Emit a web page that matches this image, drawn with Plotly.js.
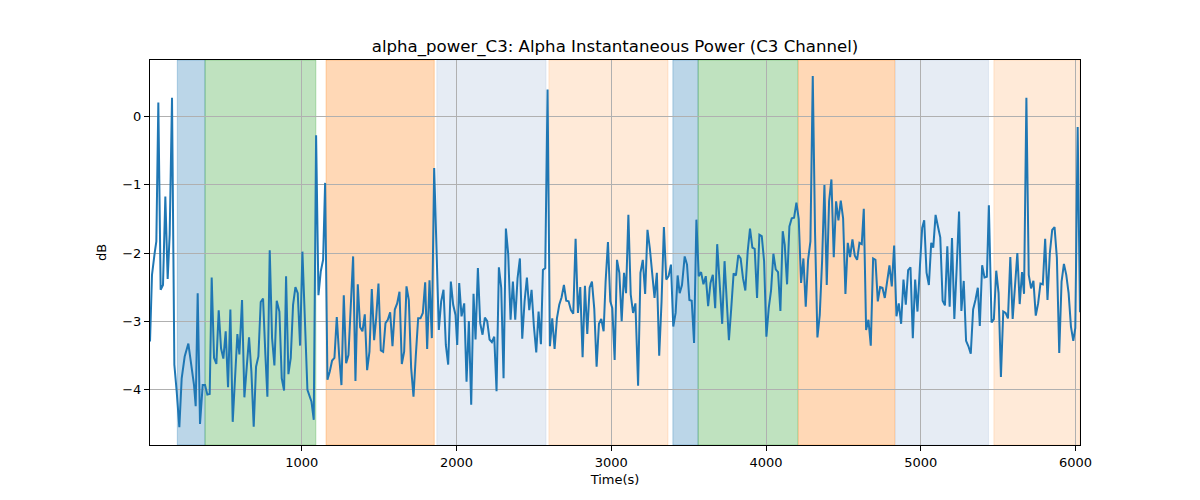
<!DOCTYPE html>
<html>
<head>
<meta charset="utf-8">
<script src="https://cdn.plot.ly/plotly-3.0.1.min.js"></script>
<style>
  html, body { margin: 0; padding: 0; background: #fff; }
  #chart { width: 1200px; height: 500px; }
</style>
</head>
<body>
<div id="chart"></div>
<script>
// alpha power, C3 channel
var timeSec = [
  19.5, 32.4, 49.6, 60.4, 73.3, 88.4, 103.5, 118.6, 133.7, 146.6, 161.7, 176.8, 191.8, 209.1, 224.2, 243.6,
  267.3, 288.8, 303.9, 314.7, 327.6, 342.7, 359.9, 375.0, 390.1, 405.2, 418.1, 433.2, 448.3, 463.4, 478.5, 493.5,
  508.6, 523.7, 538.8, 553.9, 569.0, 584.1, 597.0, 614.2, 629.3, 644.4, 659.5, 674.6, 689.6, 704.7, 719.8, 734.9,
  750.0, 765.1, 778.0, 793.1, 808.2, 823.3, 838.3, 855.6, 870.7, 885.8, 898.7, 913.8, 928.9, 943.9, 959.0, 974.1,
  989.2, 1004.3, 1019.4, 1036.6, 1062.5, 1077.6, 1092.7, 1107.8, 1122.9, 1138.0, 1150.9, 1166.0, 1181.1, 1196.1, 1211.2, 1226.3,
  1241.4, 1256.5, 1271.6, 1286.7, 1301.7, 1316.8, 1331.9, 1347.0, 1362.1, 1377.2, 1392.2, 1407.3, 1422.4, 1437.5, 1452.6, 1467.7,
  1480.6, 1495.7, 1510.8, 1525.9, 1541.0, 1556.0, 1571.1, 1586.2, 1601.3, 1616.4, 1631.5, 1646.5, 1661.6, 1676.7, 1691.8, 1706.9,
  1722.0, 1737.1, 1752.1, 1767.2, 1782.3, 1797.4, 1810.3, 1825.4, 1840.5, 1855.6, 1870.7, 1885.7, 1900.8, 1915.9, 1931.0, 1946.1,
  1963.3, 1978.4, 1993.5, 2004.4, 2017.3, 2032.4, 2049.6, 2064.7, 2079.8, 2094.9, 2109.9, 2122.9, 2138.0, 2153.0, 2168.1, 2183.2,
  2198.3, 2213.4, 2228.5, 2243.6, 2258.6, 2273.7, 2288.8, 2303.9, 2319.0, 2334.1, 2349.2, 2364.2, 2379.3, 2394.4, 2409.5, 2424.6,
  2439.7, 2454.7, 2469.8, 2484.9, 2500.0, 2515.1, 2530.2, 2545.3, 2558.2, 2573.3, 2588.3, 2603.4, 2618.5, 2633.6, 2648.7, 2663.8,
  2678.9, 2693.9, 2709.0, 2724.1, 2739.2, 2754.3, 2769.4, 2784.5, 2799.5, 2814.6, 2829.7, 2844.8, 2859.9, 2875.0, 2890.0, 2905.1,
  2920.2, 2935.3, 2950.4, 2963.3, 2978.4, 2993.5, 3006.5, 3021.7, 3036.8, 3052.0, 3067.1, 3082.3, 3095.3, 3110.4, 3125.6, 3140.7,
  3155.9, 3173.2, 3188.4, 3203.5, 3218.7, 3233.8, 3249.0, 3264.1, 3279.3, 3294.5, 3309.6, 3324.8, 3339.9, 3355.1, 3370.2, 3385.4,
  3400.5, 3415.7, 3428.7, 3441.7, 3456.8, 3474.2, 3489.3, 3504.5, 3519.6, 3534.8, 3549.9, 3565.1, 3580.2, 3595.4, 3610.5, 3625.7,
  3640.9, 3656.0, 3671.2, 3684.2, 3699.3, 3716.6, 3731.8, 3744.8, 3760.0, 3775.1, 3790.3, 3805.4, 3820.6, 3835.7, 3850.9, 3866.0,
  3881.2, 3896.3, 3911.5, 3926.6, 3941.8, 3956.9, 3972.1, 3987.3, 4002.1, 4017.2, 4032.3, 4047.4, 4062.4, 4077.5, 4092.6, 4107.7,
  4120.6, 4135.7, 4150.8, 4165.9, 4181.0, 4196.1, 4211.1, 4226.2, 4241.3, 4256.4, 4271.5, 4286.6, 4301.7, 4316.7, 4331.8, 4346.9,
  4362.0, 4377.1, 4392.2, 4407.2, 4422.3, 4437.4, 4452.5, 4467.6, 4482.7, 4497.8, 4512.8, 4527.9, 4543.0, 4558.1, 4573.2, 4588.3,
  4603.4, 4618.4, 4631.4, 4646.4, 4661.5, 4676.6, 4691.7, 4706.8, 4721.9, 4737.0, 4752.0, 4767.1, 4782.2, 4797.3, 4812.4, 4827.5,
  4842.6, 4857.6, 4872.7, 4887.8, 4902.9, 4918.0, 4933.1, 4948.2, 4963.2, 4978.3, 4993.4, 5008.7, 5021.7, 5036.9, 5052.0, 5067.2,
  5080.2, 5095.3, 5110.5, 5125.6, 5140.8, 5155.9, 5171.1, 5186.2, 5201.4, 5216.5, 5231.7, 5246.9, 5262.0, 5277.2, 5292.3, 5307.5,
  5322.6, 5337.8, 5352.9, 5368.1, 5381.1, 5396.2, 5411.4, 5426.6, 5439.5, 5456.9, 5472.0, 5487.2, 5502.3, 5517.5, 5532.6, 5547.8,
  5563.0, 5578.1, 5593.3, 5608.4, 5623.6, 5638.7, 5653.9, 5666.9, 5682.0, 5697.2, 5712.3, 5727.5, 5742.6, 5757.8, 5772.9, 5788.1,
  5803.3, 5818.4, 5833.6, 5848.7, 5863.9, 5879.0, 5894.2, 5909.3, 5924.5, 5939.6, 5954.8, 5969.9, 5985.1, 5998.1, 6013.3, 6028.4
];

var alphaDb = [
  -3.30, -2.32, -2.00, -1.83, 0.21, -2.54, -2.47, -1.17, -2.38, -1.73, 0.28, -3.64, -4.03, -4.56, -3.84, -3.52,
  -3.33, -3.69, -3.94, -4.25, -2.59, -4.51, -3.94, -3.94, -4.08, -4.07, -2.36, -3.54, -3.63, -2.84, -3.40, -3.55,
  -3.15, -3.97, -2.83, -4.48, -3.79, -3.19, -3.49, -2.69, -4.12, -3.64, -3.24, -3.74, -4.55, -3.67, -3.52, -2.72,
  -2.67, -3.50, -4.11, -1.96, -3.25, -3.65, -2.70, -2.86, -3.84, -4.02, -2.34, -3.78, -3.54, -2.76, -2.50, -2.59,
  -3.36, -1.98, -3.00, -4.01, -4.18, -4.45, -0.27, -2.62, -2.27, -2.10, -0.97, -3.86, -3.74, -3.58, -3.54, -2.94,
  -3.50, -3.94, -2.62, -3.62, -3.50, -2.86, -2.05, -3.88, -2.46, -3.09, -3.15, -2.90, -3.72, -3.45, -2.53, -3.28,
  -2.96, -2.45, -3.43, -3.45, -3.03, -2.98, -2.87, -3.37, -2.83, -2.74, -2.57, -3.63, -3.45, -2.49, -2.69, -3.69,
  -4.11, -3.50, -2.96, -2.96, -2.88, -2.43, -3.41, -2.40, -3.25, -0.75, -2.12, -3.13, -2.71, -2.54, -3.35, -3.64,
  -2.42, -2.76, -2.91, -3.35, -2.44, -2.93, -2.74, -3.89, -3.00, -4.23, -2.60, -3.27, -2.22, -3.03, -3.20, -2.95,
  -3.00, -3.27, -3.31, -3.23, -4.03, -2.21, -2.51, -3.84, -1.64, -2.02, -2.98, -2.42, -2.98, -2.37, -2.08, -3.26,
  -2.71, -2.36, -2.84, -2.54, -3.08, -3.46, -2.86, -3.34, -2.25, -2.22, 0.40, -3.37, -2.96, -3.41, -2.96, -2.76,
  -2.65, -2.47, -2.70, -2.71, -2.84, -2.89, -1.79, -2.88, -2.50, -3.53, -2.48, -3.19, -2.51, -2.42, -2.82, -3.67,
  -3.04, -2.97, -3.15, -2.42, -1.84, -2.71, -2.81, -3.57, -2.10, -2.29, -3.00, -2.29, -2.59, -1.44, -2.61, -2.88,
  -2.74, -3.95, -2.29, -2.10, -2.60, -1.66, -1.93, -2.29, -2.66, -2.29, -3.51, -2.71, -1.62, -2.39, -2.34, -2.17,
  -3.08, -2.88, -2.33, -2.59, -2.47, -2.05, -2.17, -2.69, -2.70, -3.32, -1.51, -2.34, -2.28, -2.46, -2.34, -2.78,
  -2.44, -2.32, -2.81, -1.87, -2.51, -3.04, -2.12, -2.71, -3.28, -2.81, -2.30, -2.33, -2.03, -2.08, -2.37, -2.55,
  -1.98, -1.64, -1.92, -1.94, -2.66, -1.73, -1.75, -2.12, -3.23, -2.81, -2.55, -2.01, -2.24, -2.28, -2.85, -1.68,
  -1.88, -2.46, -1.61, -1.49, -1.48, -1.26, -1.50, -2.44, -2.08, -2.79, -2.10, -1.83, 0.60, -1.73, -3.24, -2.91,
  -2.12, -1.00, -2.47, -1.24, -0.92, -2.06, -1.24, -1.52, -1.23, -1.49, -2.60, -1.85, -2.06, -1.80, -2.04, -2.10,
  -1.85, -1.87, -1.35, -3.13, -2.98, -3.36, -2.08, -2.10, -2.71, -2.50, -2.51, -2.66, -2.42, -2.18, -2.49, -1.89,
  -2.93, -2.74, -3.04, -2.39, -2.76, -2.25, -2.21, -3.25, -2.39, -2.86, -2.22, -1.63, -1.52, -2.29, -2.47, -1.85,
  -1.92, -1.44, -1.61, -1.77, -2.70, -2.77, -1.90, -2.79, -1.78, -2.97, -2.22, -1.39, -2.85, -2.41, -3.29, -3.37,
  -3.48, -2.83, -2.69, -2.51, -3.07, -2.18, -2.36, -2.35, -1.30, -3.02, -2.97, -2.26, -2.59, -3.82, -2.86, -2.88,
  -2.96, -2.06, -2.97, -2.47, -2.00, -2.75, -2.28, -2.60, 0.28, -2.32, -2.52, -2.41, -2.92, -2.74, -2.45, -2.46,
  -1.79, -2.69, -2.00, -1.66, -1.62, -2.07, -3.47, -2.42, -2.16, -2.32, -2.59, -3.08, -3.29, -3.10, -0.15, -2.87
];

// shaded phases
var phaseStart = [196, 375, 1157, 1873, 2597, 3398, 3561, 4209, 4836, 5472];
var phaseEnd   = [375, 1091, 1856, 2578, 3366, 3561, 4205, 4832, 5437, 6028.4];
var phaseColor = [
  "rgba(31,119,180,0.3)", "rgba(44,160,44,0.3)", "rgba(255,127,14,0.3)",
  "rgba(176,196,222,0.32)", "rgba(255,127,14,0.16)",
  "rgba(31,119,180,0.3)", "rgba(44,160,44,0.3)", "rgba(255,127,14,0.3)",
  "rgba(176,196,222,0.32)", "rgba(255,127,14,0.16)"
];

var xTicks = [1000, 2000, 3000, 4000, 5000, 6000];
var yTicks = [-4, -3, -2, -1, 0];

var font = "DejaVu Sans, Liberation Sans, sans-serif";

var shapes = phaseStart.map(function (s, i) {
  return {
    type: "rect",
    xref: "x",
    yref: "paper",
    x0: s,
    x1: phaseEnd[i],
    y0: 0,
    y1: 1,
    fillcolor: phaseColor[i],
    line: { width: 1, color: phaseColor[i] },
    layer: "below"
  };
});

var trace = {
  type: "scatter",
  mode: "lines",
  x: timeSec,
  y: alphaDb,
  line: { color: "#1f77b4", width: 2 },
  hoverinfo: "x+y"
};

var layout = {
  width: 1200,
  height: 500,
  margin: { l: 150, r: 120, t: 60, b: 55 },
  paper_bgcolor: "#ffffff",
  plot_bgcolor: "#ffffff",
  font: { family: font, size: 13, color: "#000" },
  showlegend: false,
  title: {
    text: "alpha_power_C3: Alpha Instantaneous Power (C3 Channel)",
    font: { family: font, size: 16.6, color: "#000" },
    x: 0.5,
    xref: "paper",
    y: 0.908,
    yref: "container",
    yanchor: "middle"
  },
  xaxis: {
    range: [19.5, 6028.4],
    tickvals: xTicks,
    ticks: "outside",
    ticklen: 5,
    tickcolor: "#000",
    showgrid: true,
    gridcolor: "#b0b0b0",
    gridwidth: 1,
    zeroline: false,
    showline: true,
    linecolor: "#000",
    linewidth: 1,
    mirror: true,
    tickfont: { family: font, size: 13, color: "#000" },
    title: { text: "Time(s)", font: { family: font, size: 13, color: "#000" }, standoff: 6 }
  },
  yaxis: {
    range: [-4.82, 0.835],
    tickvals: yTicks,
    ticks: "outside",
    ticklen: 5,
    tickcolor: "#000",
    showgrid: true,
    gridcolor: "#b0b0b0",
    gridwidth: 1,
    zeroline: false,
    showline: true,
    linecolor: "#000",
    linewidth: 1,
    mirror: true,
    tickfont: { family: font, size: 13, color: "#000" },
    title: { text: "dB", font: { family: font, size: 13, color: "#000" }, standoff: 12 }
  },
  shapes: shapes
};

Plotly.newPlot("chart", [trace], layout, { displayModeBar: false, staticPlot: true });
</script>
</body>
</html>
